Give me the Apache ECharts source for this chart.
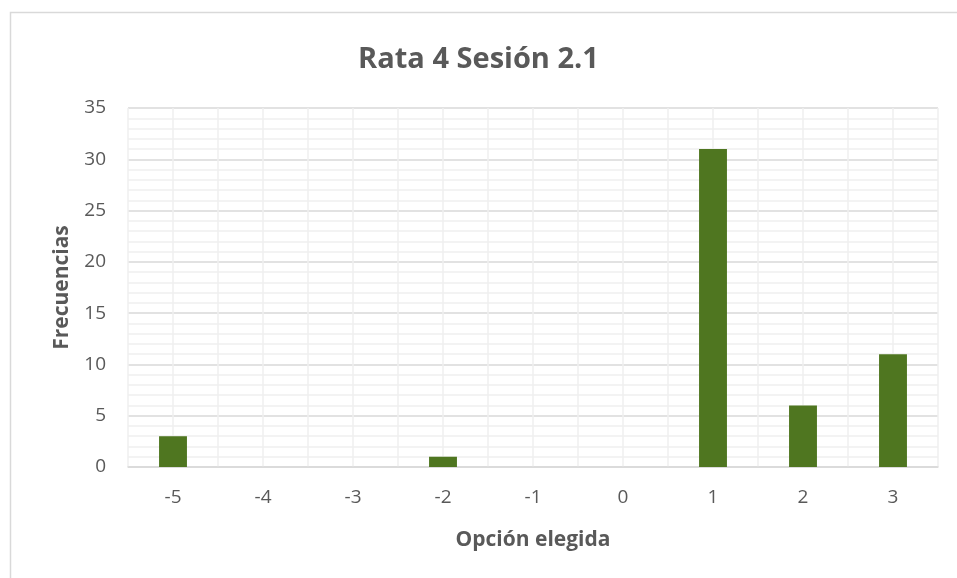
<!DOCTYPE html>
<html>
<head>
<meta charset="utf-8">
<script src="https://cdn.jsdelivr.net/npm/echarts@6/dist/echarts.min.js"></script>
<style>
  html, body { margin: 0; padding: 0; background: #fff; }
  #chart { width: 957px; height: 578px; }
</style>
</head>
<body>
<div id="chart"></div>
<script>
// datos
const categories = ['-5', '-4', '-3', '-2', '-1', '0', '1', '2', '3'];
const frecuencias = [3, 0, 0, 1, 0, 0, 31, 6, 11];
const yTicks = [0, 5, 10, 15, 20, 25, 30, 35];

const gris = '#595959';
const fuente = '"Open Sans", "Noto Sans", sans-serif';

let myChart = echarts.init(document.getElementById('chart'));
myChart.setOption({
  animation: false,
  textStyle: { fontFamily: fuente },
  title: {
    text: 'Rata 4 Sesión 2.1',
    left: 'center',
    top: 40,
    textStyle: { color: gris, fontSize: 29, fontWeight: 'bold', fontFamily: fuente }
  },
  graphic: [{
    type: 'rect',
    left: 8, top: 10,
    shape: { width: 1000, height: 1000 },
    style: { fill: 'none', stroke: '#d9d9d9', lineWidth: 1.5 },
    silent: true
  }],
  grid: { left: 128, right: 19, top: 108, bottom: 111 },
  xAxis: [{
    type: 'category',
    data: categories,
    name: 'Opción elegida',
    nameLocation: 'middle',
    nameGap: 63,
    nameTextStyle: { color: gris, fontSize: 21, fontWeight: 'bold' },
    axisLine: { lineStyle: { color: '#d9d9d9', width: 1.5 } },
    axisTick: { show: false },
    axisLabel: { color: gris, fontSize: 19, margin: 21 },
    splitLine: { show: false }
  }, {
    // lineas verticales cada media categoria
    type: 'value',
    position: 'bottom',
    min: 0, max: 18, interval: 1,
    axisLine: { show: false },
    axisTick: { show: false },
    axisLabel: { show: false },
    splitLine: { show: true, lineStyle: { color: '#efefef', width: 1.5 } }
  }],
  yAxis: {
    type: 'value',
    min: 0,
    max: yTicks[yTicks.length - 1],
    interval: 5,
    name: 'Frecuencias',
    nameLocation: 'middle',
    nameGap: 55,
    nameTextStyle: { color: gris, fontSize: 21, fontWeight: 'bold' },
    axisLine: { show: false },
    axisTick: { show: false },
    axisLabel: { color: gris, fontSize: 19, margin: 22 },
    splitLine: { lineStyle: { color: '#d9d9d9', width: 1.5 } },
    minorTick: { show: false, splitNumber: 5 },
    minorSplitLine: { show: true, lineStyle: { color: '#efefef', width: 1.5 } }
  },
  series: [{
    name: 'Frecuencias',
    type: 'bar',
    xAxisIndex: 0,
    data: frecuencias,
    barWidth: '31%',
    itemStyle: { color: '#4f7620' }
  }]
});
</script>
</body>
</html>
